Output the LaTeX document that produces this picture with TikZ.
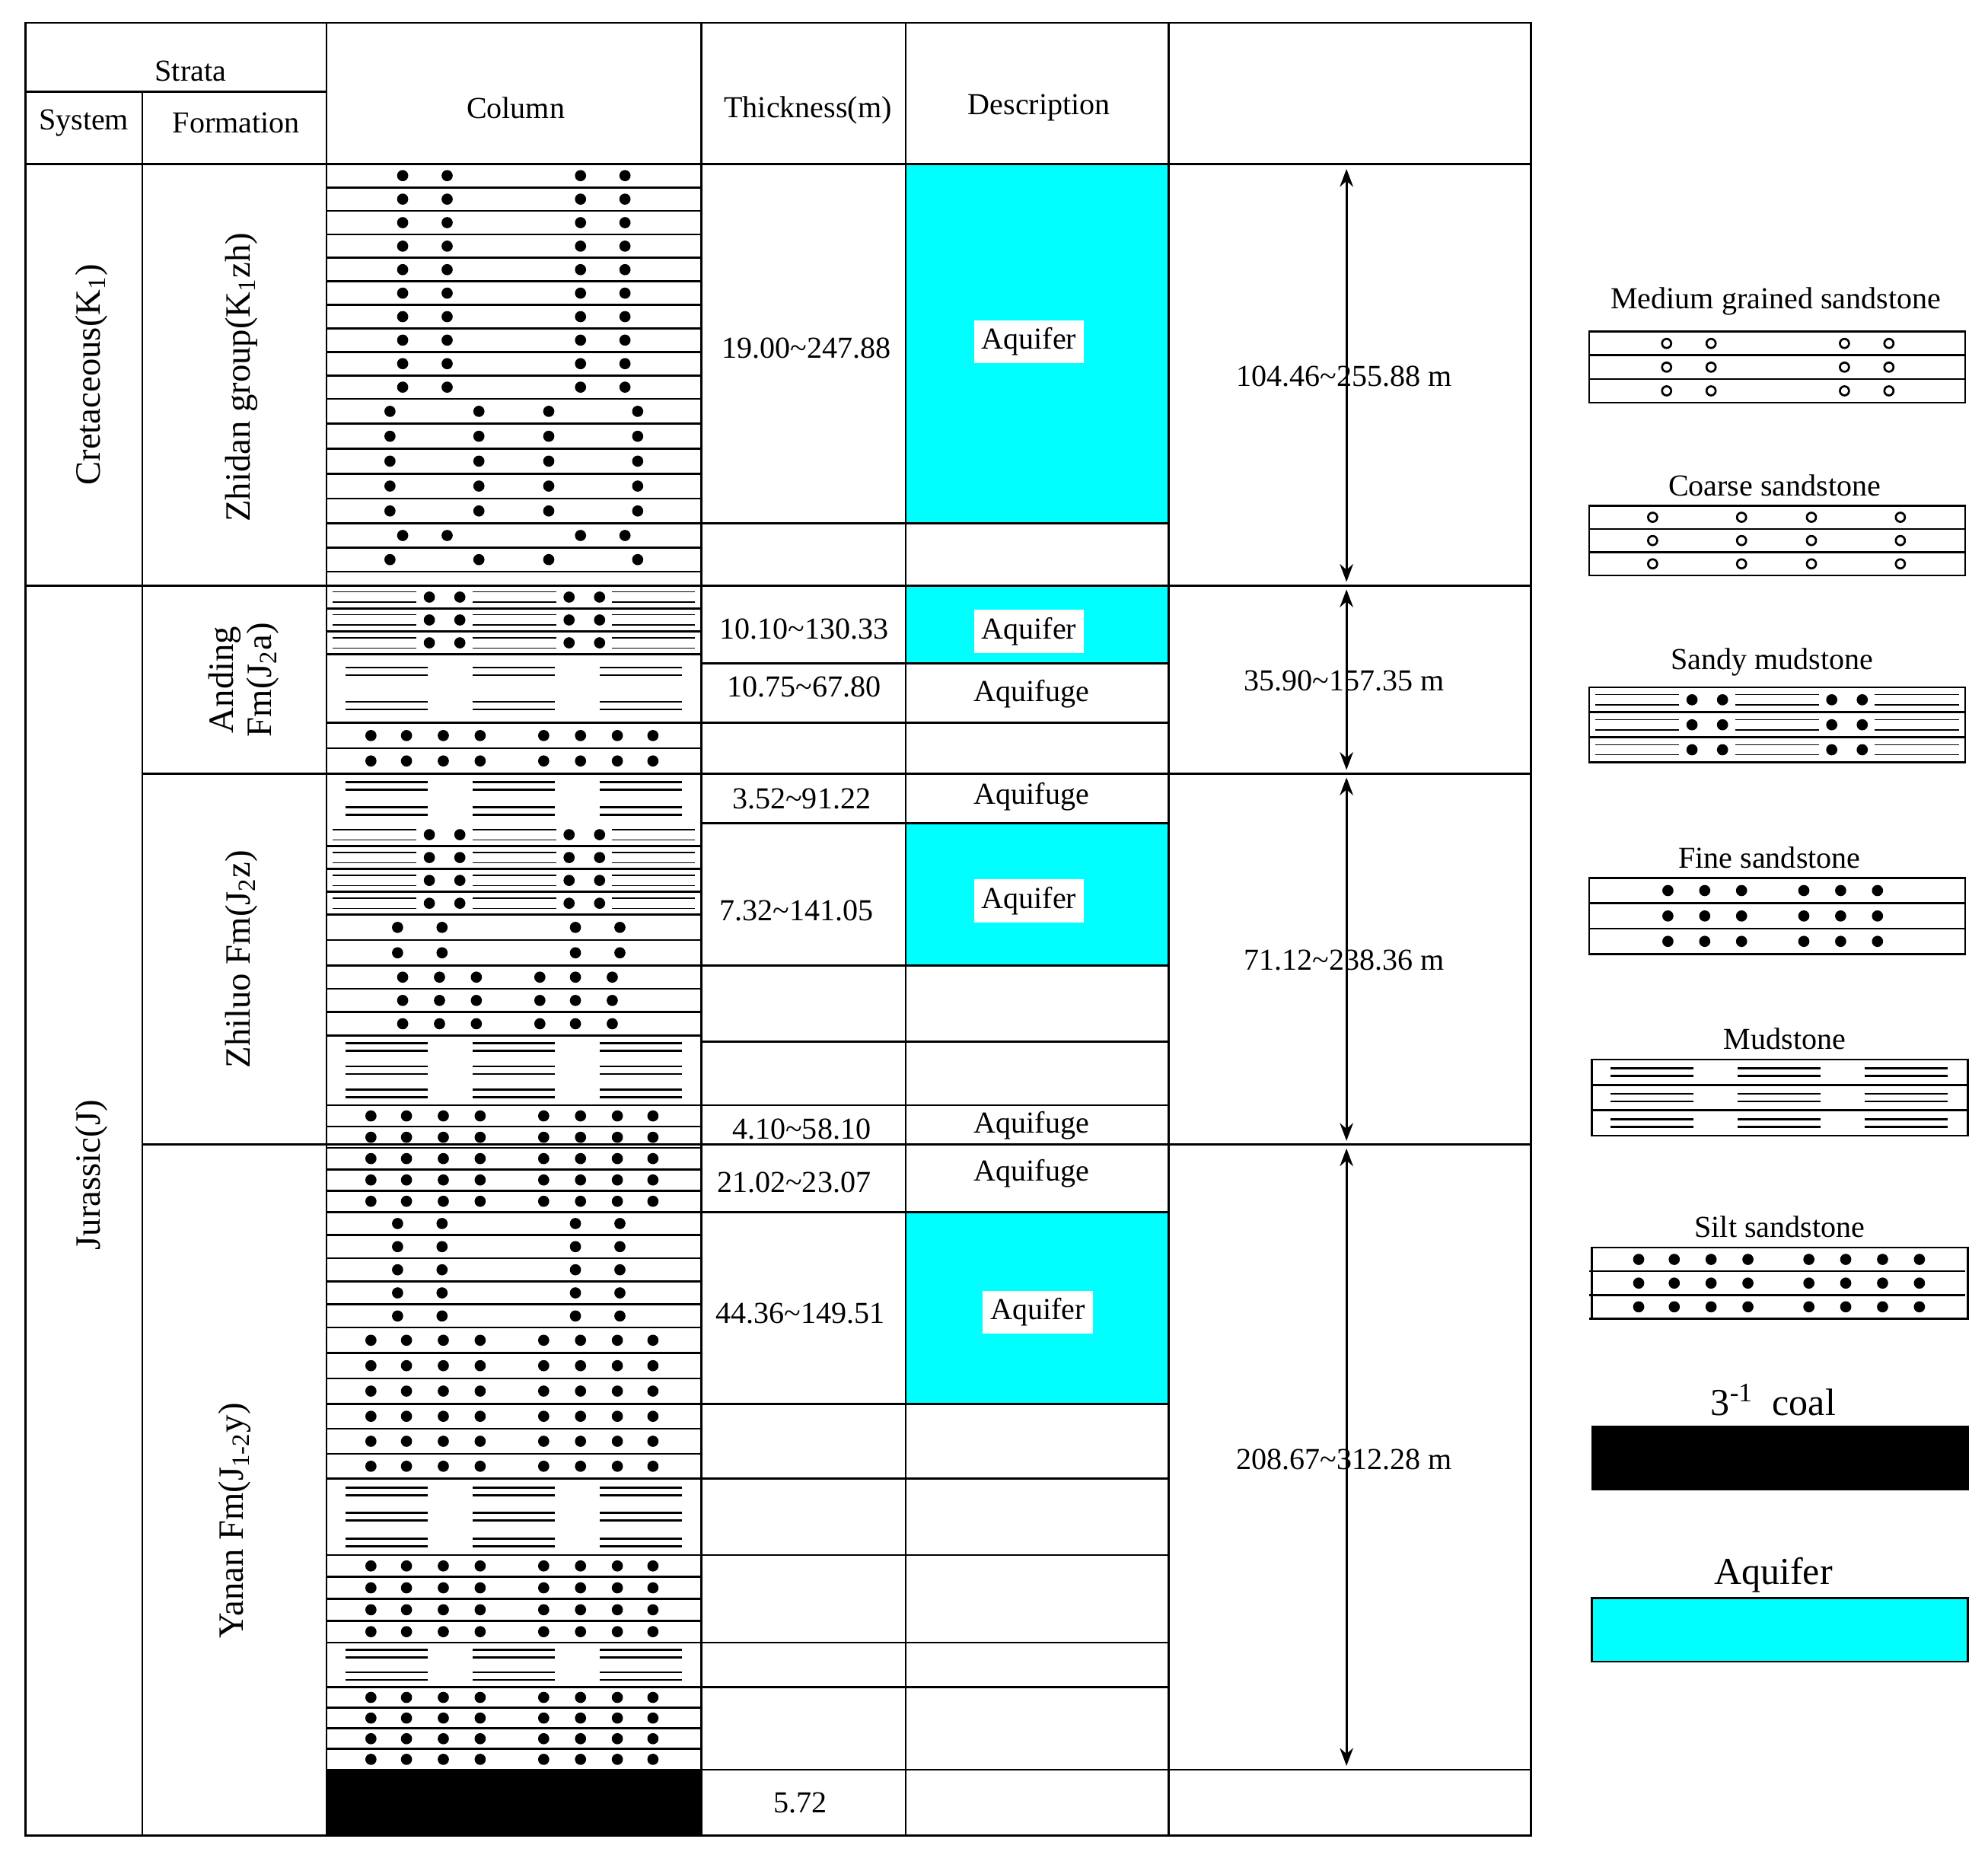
\documentclass[tikz,border=0pt]{standalone}
\usepackage{fontspec}
\setmainfont{Liberation Serif}
\usetikzlibrary{arrows.meta}
\definecolor{aq}{RGB}{0,255,255}
\newcommand\rowlines[3]{\pgfmathsetmacro\hh{(#2-#1)/#3}\foreach \i in {1,...,#3}{\pgfmathsetmacro\yl{#1+\i*\hh}\draw[thick] (257,\yl)--(552,\yl);}}
\newcommand\band[4]{\rowlines{#1}{#2}{#3}\pgfmathsetmacro\hh{(#2-#1)/#3}\foreach \i in {1,...,#3}{\pgfmathsetmacro\yc{#1+(\i-0.5)*\hh}\foreach \x in {#4}{\fill (\x,\yc) circle[radius=2.2pt];}}}
\newcommand\obands[4]{\pgfmathsetmacro\hh{(#2-#1)/#3}\foreach \i in {1,...,#3}{\pgfmathsetmacro\yc{#1+(\i-0.5)*\hh}\pgfmathsetmacro\yl{#1+\i*\hh}\draw[thick] (1251,\yl)--(1547,\yl);\foreach \x in {#4}{\draw[thick] (\x,\yc) circle[radius=1.8pt];}}}
\newcommand\lbands[4]{\pgfmathsetmacro\hh{(#2-#1)/#3}\foreach \i in {1,...,#3}{\pgfmathsetmacro\yc{#1+(\i-0.5)*\hh}\pgfmathsetmacro\yl{#1+\i*\hh}\draw[thick] (1251,\yl)--(1547,\yl);\foreach \x in {#4}{\fill (\x,\yc) circle[radius=2.2pt];}}}
\newcommand\mud[3]{\pgfmathsetmacro\hh{(#2-#1)/#3}\foreach \i in {1,...,#3}{\pgfmathsetmacro\yc{#1+(\i-0.5)*\hh}\foreach \a/\b in {272/337,372/437,472/537}{\draw[thick] (\a,\yc-3)--(\b,\yc-3);\draw[thick] (\a,\yc+3)--(\b,\yc+3);}}}
\newcommand\sandy[3]{\rowlines{#1}{#2}{#3}\pgfmathsetmacro\hh{(#2-#1)/#3}\foreach \i in {1,...,#3}{\pgfmathsetmacro\yc{#1+(\i-0.5)*\hh}\foreach \a/\b in {262/328,372/438,482/547}{\draw (\a,\yc-4)--(\b,\yc-4);\draw (\a,\yc+4)--(\b,\yc+4);}\foreach \x in {338,362,448,472}{\fill (\x,\yc) circle[radius=2.2pt];}}}
\begin{document}
\begin{tikzpicture}[x=0.5pt,y=-0.5pt,
 txt/.style={font=\fontsize{12}{14}\selectfont,inner sep=1pt},
 lab/.style={txt,fill=white,inner sep=3pt},
 dim/.style={thick,{Stealth[length=7pt]}-{Stealth[length=7pt]}}]
\useasboundingbox (0,0) rectangle (1565,1462);
% cyan fills
\fill[aq] (713,129) rectangle (920,412);
\fill[aq] (713,461) rectangle (920,522);
\fill[aq] (713,648) rectangle (920,760);
\fill[aq] (713,954) rectangle (920,1105);
\fill (257,1393) rectangle (552,1445);
% column patterns
\band{129}{314}{10}{317,352,457,492}
\band{314}{412}{5}{307,377,432,502}
\band{412}{431}{1}{317,352,457,492}
\band{431}{450}{1}{307,377,432,502}
\sandy{461}{515}{3}
\mud{515}{569}{2}
\draw[thick] (257,569)--(552,569);
\band{569}{609}{2}{292,320,349,378,428,457,486,514}
\mud{609}{648}{2}
\sandy{648}{720}{4}
\band{720}{760}{2}{313,348,453,488}
\band{760}{815}{3}{317,346,375,425,453,482}
\mud{815}{870}{3}
\draw[thick] (257,870)--(552,870);
\band{870}{954}{5}{292,320,349,378,428,457,486,514}
\band{954}{1045}{5}{313,348,453,488}
\band{1045}{1105}{3}{292,320,349,378,428,457,486,514}
\band{1105}{1164}{3}{292,320,349,378,428,457,486,514}
\mud{1164}{1224}{3}
\draw[thick] (257,1224)--(552,1224);
\band{1224}{1293}{4}{292,320,349,378,428,457,486,514}
\mud{1293}{1328}{2}
\draw[thick] (257,1328)--(552,1328);
\band{1328}{1393}{4}{292,320,349,378,428,457,486,514}
% table grid
\draw[thick] (20,18) rectangle (1205,1445);
\foreach \x in {257,552,713,920} \draw[thick] (\x,18)--(\x,1445);
\draw[thick] (112,72)--(112,1445);
\draw[thick] (20,72)--(257,72);
\draw[thick] (20,129)--(1205,129);
\draw[thick] (20,461)--(1205,461);
\draw[thick] (112,609)--(1205,609);
\draw[thick] (112,901)--(1205,901);
\draw[thick] (552,1393)--(1205,1393);
\foreach \y in {412,522,569,648,760,820,870,954,1105,1164,1224,1293,1328} \draw[thick] (552,\y)--(920,\y);
% headers
\node[txt] (hs) at (150,56) {Strata};
\node[txt] (hsys) at (66,97) {System};
\node[txt] (hf) at (186,97) {Formation};
\node[txt] (hc) at (406,85) {Column};
\node[txt] (ht) at (636,87) {Thickness(m)};
\node[txt] (hd) at (818,85) {Description};
% strata names
\node[txt,rotate=90,font=\fontsize{14}{16}\selectfont] (cre) at (72,295) {Cretaceous(K\textsubscript{1})};
\node[txt,rotate=90,font=\fontsize{14}{16}\selectfont] (jur) at (72,925) {Jurassic(J)};
\node[txt,rotate=90,font=\fontsize{14}{16}\selectfont] (zh) at (190,297) {Zhidan group(K\textsubscript{1}zh)};
\node[txt,rotate=90,font=\fontsize{14}{15}\selectfont,align=center] (an) at (192,535) {Anding\\Fm(J\textsubscript{2}a)};
\node[txt,rotate=90,font=\fontsize{14}{16}\selectfont] (zl) at (190,755) {Zhiluo Fm(J\textsubscript{2}z)};
\node[txt,rotate=90,font=\fontsize{14}{16}\selectfont] (ya) at (185,1197) {Yanan Fm(J\textsubscript{1-2}y)};
% thickness
\node[txt] (t1) at (635,274) {19.00\textasciitilde 247.88};
\node[txt] (t2) at (633,495) {10.10\textasciitilde 130.33};
\node[txt] (t3) at (633,541) {10.75\textasciitilde 67.80};
\node[txt] (t4) at (631,629) {3.52\textasciitilde 91.22};
\node[txt] (t5) at (627,717) {7.32\textasciitilde 141.05};
\node[txt] (t6) at (631,889) {4.10\textasciitilde 58.10};
\node[txt] (t7) at (625,931) {21.02\textasciitilde 23.07};
\node[txt] (t8) at (630,1034) {44.36\textasciitilde 149.51};
\node[txt] (t9) at (630,1419) {5.72};
% description
\node[lab] (d1) at (810,269) {Aquifer};
\node[lab] (d2) at (810,497) {Aquifer};
\node[txt] (d3) at (812,546) {Aquifuge};
\node[txt] (d4) at (812,627) {Aquifuge};
\node[lab] (d5) at (810,709) {Aquifer};
\node[txt] (d6) at (812,886) {Aquifuge};
\node[txt] (d7) at (812,924) {Aquifuge};
\node[lab] (d8) at (817,1033) {Aquifer};
% dimension arrows
\coordinate (a1) at (1060,133); \coordinate (b1) at (1060,458);
\coordinate (a2) at (1060,464); \coordinate (b2) at (1060,606);
\coordinate (a3) at (1060,612); \coordinate (b3) at (1060,898);
\coordinate (a4) at (1060,904); \coordinate (b4) at (1060,1390);
\draw[dim] (a1)--(b1); \draw[dim] (a2)--(b2); \draw[dim] (a3)--(b3); \draw[dim] (a4)--(b4);
\node[txt] (r1) at (1058,296) {104.46\textasciitilde 255.88 m};
\node[txt] (r2) at (1058,536) {35.90\textasciitilde 157.35 m};
\node[txt] (r3) at (1058,756) {71.12\textasciitilde 238.36 m};
\node[txt] (r4) at (1058,1149) {208.67\textasciitilde 312.28 m};
% legend
\node[txt] (l1) at (1398,237) {Medium grained sandstone};
\draw[thick] (1251,261) rectangle (1547,317);
\obands{261}{317}{3}{1312,1347,1452,1487}
\node[txt] (l2) at (1397,382) {Coarse sandstone};
\draw[thick] (1251,398) rectangle (1547,453);
\obands{398}{453}{3}{1301,1371,1426,1496}
\node[txt] (l3) at (1395,521) {Sandy mudstone};
\draw[thick] (1251,541) rectangle (1547,600);
\pgfmathsetmacro\hh{59/3}
\foreach \i in {1,2,3}{\pgfmathsetmacro\yc{541+(\i-0.5)*\hh}\pgfmathsetmacro\yl{541+\i*\hh}
 \draw[thick] (1251,\yl)--(1547,\yl);
 \foreach \a/\b in {1256/1322,1366/1432,1476/1542}{\draw (\a,\yc-4)--(\b,\yc-4);\draw (\a,\yc+4)--(\b,\yc+4);}
 \foreach \x in {1332,1356,1442,1466}{\fill (\x,\yc) circle[radius=2.2pt];}}
\node[txt] (l4) at (1393,675) {Fine sandstone};
\draw[thick] (1251,691) rectangle (1547,751);
\lbands{691}{751}{3}{1313,1342,1371,1420,1449,1478}
\node[txt] (l5) at (1405,818) {Mudstone};
\draw[thick] (1253,834) rectangle (1549,894);
\draw[thick] (1253,854)--(1549,854); \draw[thick] (1253,874)--(1549,874);
\foreach \c in {844,864,884}{\foreach \a/\b in {1268/1333,1368/1433,1468/1533}{\draw[thick] (\a,\c-3)--(\b,\c-3);\draw[thick] (\a,\c+3)--(\b,\c+3);}}
\node[txt] (l6) at (1401,966) {Silt sandstone};
\draw[thick] (1253,982) rectangle (1549,1038);
\lbands{982}{1038}{3}{1290,1318,1347,1376,1424,1453,1482,1511}
\node[txt,font=\fontsize{15}{17}\selectfont] (l7) at (1396,1102) {3\textsuperscript{-1}\ \ coal};
\fill (1253,1122) rectangle (1550,1173);
\node[txt,font=\fontsize{15}{17}\selectfont] (l8) at (1396,1240) {Aquifer};
\draw[thick,fill=aq] (1253,1258) rectangle (1549,1308);
\end{tikzpicture}
\end{document}
